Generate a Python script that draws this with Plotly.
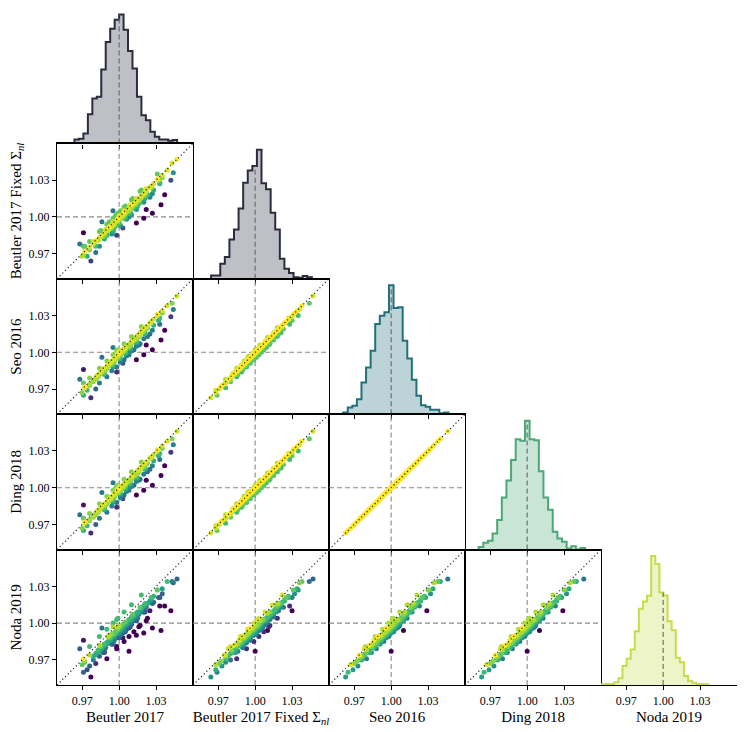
"""
Corner plot comparing BAO fit results (alpha) across five models
Histograms on the diagonal, pairwise scatter below it
"""

import numpy as np
import plotly.graph_objects as go
from plotly.subplots import make_subplots

# Model names (axis labels)
models = ["Beutler 2017", "Beutler 2017 Fixed Σ<sub><i>nl</i></sub>", "Seo 2016", "Ding 2018", "Noda 2019"]

# Per-realisation values (same realisation = same index)
beutler = [0.977, 0.970, 0.981, 0.972, 0.976, 0.971, 0.979, 0.968, 0.981, 0.983,
           0.982, 0.984, 0.985, 0.998, 0.986, 0.988, 0.971, 0.988, 0.990, 0.995,
           0.991, 0.991, 0.993, 1.003, 0.992, 0.993, 0.996, 0.994, 0.995, 0.996,
           1.014, 0.996, 0.997, 0.986, 0.998, 0.999, 1.001, 0.999, 1.020, 0.999,
           1.000, 1.002, 0.999, 1.001, 1.003, 1.008, 1.002, 1.003, 1.000, 1.004,
           1.027, 1.003, 1.005, 1.004, 1.006, 0.995, 1.007, 1.008, 1.022, 1.008,
           1.009, 1.010, 1.010, 1.015, 1.011, 1.010, 1.034, 1.012, 1.013, 1.014,
           1.014, 1.016, 1.015, 1.017, 1.025, 1.018, 1.018, 1.037, 1.020, 1.021,
           1.022, 1.028, 1.025, 1.026, 1.028, 1.042, 1.031, 1.035, 1.039, 1.047,
           0.971, 0.974, 0.972, 0.976, 0.984, 0.979, 0.981, 0.976, 0.990, 0.983,
           0.988, 0.988, 0.985, 0.987, 0.994, 0.989, 0.990, 0.984, 0.998, 0.991,
           0.995, 0.995, 0.992, 0.994, 1.001, 0.995, 0.996, 0.990, 1.004, 0.996,
           1.001, 1.000, 0.997, 0.999, 1.006, 1.000, 1.000, 0.995, 1.008, 1.001,
           1.005, 1.005, 1.001, 1.003, 1.010, 1.004, 1.005, 0.999, 1.012, 1.005,
           1.009, 1.009, 1.005, 1.008, 1.014, 1.009, 1.009, 1.004, 1.017, 1.010,
           1.014, 1.014, 1.011, 1.013, 1.020, 1.014, 1.015, 1.010, 1.023, 1.016,
           1.021, 1.021, 1.017, 1.020, 1.027, 1.022, 1.023, 1.018, 1.033, 1.026,
           1.032, 1.033, 1.031, 1.035, 1.044, 1.043, 0.999, 0.998, 1.016, 0.993]
beutler_fixed = [0.964, 0.968, 0.971, 0.972, 0.975, 0.976, 0.978, 0.978, 0.980, 0.981,
                 0.981, 0.983, 0.984, 0.985, 0.985, 0.986, 0.987, 0.987, 0.989, 0.988,
                 0.990, 0.990, 0.991, 0.991, 0.992, 0.992, 0.993, 0.993, 0.994, 0.994,
                 0.995, 0.995, 0.996, 0.996, 0.997, 0.997, 0.998, 0.998, 0.999, 0.998,
                 0.999, 1.000, 0.999, 1.000, 1.001, 1.000, 1.001, 1.002, 1.001, 1.002,
                 1.003, 1.002, 1.003, 1.004, 1.004, 1.005, 1.005, 1.006, 1.006, 1.007,
                 1.007, 1.008, 1.008, 1.009, 1.009, 1.010, 1.010, 1.011, 1.011, 1.012,
                 1.013, 1.013, 1.014, 1.015, 1.016, 1.016, 1.017, 1.018, 1.019, 1.020,
                 1.021, 1.022, 1.024, 1.025, 1.027, 1.030, 1.031, 1.034, 1.038, 1.047,
                 0.969, 0.968, 0.976, 0.973, 0.976, 0.980, 0.976, 0.980, 0.985, 0.981,
                 0.986, 0.982, 0.989, 0.984, 0.986, 0.990, 0.985, 0.988, 0.993, 0.989,
                 0.993, 0.989, 0.996, 0.991, 0.993, 0.996, 0.991, 0.994, 0.999, 0.994,
                 0.999, 0.994, 1.001, 0.996, 0.998, 1.001, 0.995, 0.999, 1.003, 0.999,
                 1.003, 0.999, 1.005, 1.000, 1.002, 1.005, 1.000, 1.003, 1.007, 1.003,
                 1.007, 1.003, 1.009, 1.005, 1.006, 1.010, 1.004, 1.008, 1.012, 1.008,
                 1.012, 1.008, 1.015, 1.010, 1.012, 1.015, 1.010, 1.014, 1.018, 1.014,
                 1.019, 1.015, 1.021, 1.017, 1.019, 1.023, 1.018, 1.022, 1.028, 1.024,
                 1.030, 1.027, 1.035, 1.032, 1.036, 1.044, 0.994, 1.002, 1.011, 0.991]
seo = [0.963, 0.967, 0.970, 0.972, 0.974, 0.975, 0.977, 0.978, 0.979, 0.980,
       0.981, 0.982, 0.983, 0.984, 0.985, 0.985, 0.986, 0.987, 0.988, 0.988,
       0.989, 0.990, 0.990, 0.991, 0.991, 0.992, 0.992, 0.993, 0.993, 0.994,
       0.994, 0.995, 0.995, 0.996, 0.996, 0.997, 0.997, 0.998, 0.998, 0.998,
       0.999, 0.999, 0.999, 1.000, 1.000, 1.000, 1.001, 1.001, 1.001, 1.002,
       1.002, 1.002, 1.003, 1.003, 1.004, 1.004, 1.005, 1.005, 1.006, 1.006,
       1.007, 1.007, 1.008, 1.008, 1.009, 1.009, 1.010, 1.010, 1.011, 1.012,
       1.012, 1.013, 1.014, 1.015, 1.015, 1.016, 1.017, 1.018, 1.019, 1.020,
       1.021, 1.022, 1.024, 1.025, 1.027, 1.029, 1.031, 1.034, 1.038, 1.046,
       0.965, 0.969, 0.971, 0.973, 0.975, 0.976, 0.978, 0.979, 0.980, 0.981,
       0.982, 0.983, 0.984, 0.984, 0.985, 0.986, 0.987, 0.987, 0.988, 0.989,
       0.989, 0.990, 0.991, 0.991, 0.992, 0.992, 0.993, 0.993, 0.994, 0.994,
       0.995, 0.995, 0.996, 0.996, 0.997, 0.997, 0.997, 0.998, 0.998, 0.999,
       0.999, 1.000, 1.000, 1.000, 1.001, 1.001, 1.002, 1.002, 1.002, 1.003,
       1.003, 1.004, 1.004, 1.005, 1.005, 1.006, 1.006, 1.007, 1.007, 1.008,
       1.008, 1.009, 1.010, 1.010, 1.011, 1.011, 1.012, 1.013, 1.013, 1.014,
       1.015, 1.016, 1.016, 1.017, 1.018, 1.019, 1.020, 1.021, 1.023, 1.024,
       1.026, 1.028, 1.030, 1.032, 1.035, 1.040, 0.996, 1.001, 1.006, 0.991]
ding = [0.963, 0.967, 0.970, 0.972, 0.974, 0.975, 0.977, 0.978, 0.979, 0.980,
        0.981, 0.982, 0.983, 0.984, 0.985, 0.985, 0.986, 0.987, 0.988, 0.988,
        0.989, 0.990, 0.990, 0.991, 0.991, 0.992, 0.992, 0.993, 0.993, 0.994,
        0.994, 0.995, 0.995, 0.996, 0.996, 0.997, 0.997, 0.998, 0.998, 0.998,
        0.999, 0.999, 0.999, 1.000, 1.000, 1.000, 1.001, 1.001, 1.001, 1.002,
        1.002, 1.002, 1.003, 1.003, 1.004, 1.004, 1.005, 1.005, 1.006, 1.006,
        1.007, 1.007, 1.008, 1.008, 1.009, 1.009, 1.010, 1.010, 1.011, 1.012,
        1.012, 1.013, 1.014, 1.015, 1.015, 1.016, 1.017, 1.018, 1.019, 1.020,
        1.021, 1.022, 1.024, 1.025, 1.027, 1.029, 1.031, 1.034, 1.038, 1.046,
        0.965, 0.969, 0.971, 0.973, 0.975, 0.976, 0.978, 0.979, 0.980, 0.981,
        0.982, 0.983, 0.984, 0.984, 0.985, 0.986, 0.987, 0.987, 0.988, 0.989,
        0.989, 0.990, 0.991, 0.991, 0.992, 0.992, 0.993, 0.993, 0.994, 0.994,
        0.995, 0.995, 0.996, 0.996, 0.997, 0.997, 0.997, 0.998, 0.998, 0.999,
        0.999, 1.000, 1.000, 1.000, 1.001, 1.001, 1.002, 1.002, 1.002, 1.003,
        1.003, 1.004, 1.004, 1.005, 1.005, 1.006, 1.006, 1.007, 1.007, 1.008,
        1.008, 1.009, 1.010, 1.010, 1.011, 1.011, 1.012, 1.013, 1.013, 1.014,
        1.015, 1.016, 1.016, 1.017, 1.018, 1.019, 1.020, 1.021, 1.023, 1.024,
        1.026, 1.028, 1.030, 1.032, 1.035, 1.040, 0.996, 1.001, 1.006, 0.991]
noda = [0.956, 0.966, 0.967, 0.969, 0.974, 0.971, 0.973, 0.979, 0.975, 0.978,
        0.976, 0.982, 0.978, 0.981, 0.980, 0.983, 0.986, 0.982, 0.984, 0.985,
        0.989, 0.985, 0.987, 0.988, 0.990, 0.988, 0.986, 0.991, 0.989, 0.992,
        0.990, 0.991, 0.993, 0.996, 0.992, 0.994, 0.991, 0.995, 0.992, 0.996,
        0.995, 0.993, 0.997, 0.995, 0.996, 0.977, 0.997, 0.994, 0.998, 0.997,
        0.996, 0.999, 0.998, 0.995, 1.000, 0.997, 0.999, 0.996, 1.002, 1.003,
        1.002, 0.999, 1.003, 1.004, 1.003, 1.005, 0.994, 1.006, 1.005, 1.006,
        1.008, 1.007, 1.009, 1.009, 1.010, 1.011, 1.012, 1.014, 1.014, 1.016,
        1.016, 1.017, 1.018, 1.021, 1.022, 1.010, 1.027, 1.028, 1.034, 1.036,
        0.960, 0.962, 0.968, 0.965, 0.973, 0.970, 0.974, 0.981, 0.971, 0.976,
        0.977, 0.976, 0.981, 0.976, 0.983, 0.980, 0.983, 0.989, 0.979, 0.984,
        0.984, 0.983, 0.988, 0.983, 0.990, 0.986, 0.989, 0.995, 0.985, 0.989,
        0.990, 0.988, 0.993, 0.988, 0.995, 0.991, 0.993, 1.000, 0.989, 0.994,
        0.994, 0.993, 0.997, 0.992, 0.999, 0.995, 0.998, 1.004, 0.993, 0.998,
        0.998, 0.997, 1.001, 0.997, 1.003, 1.000, 1.002, 1.009, 0.998, 1.003,
        1.003, 1.002, 1.007, 1.002, 1.009, 1.005, 1.008, 1.015, 1.004, 1.009,
        1.010, 1.009, 1.013, 1.009, 1.016, 1.013, 1.016, 1.023, 1.014, 1.019,
        1.021, 1.021, 1.027, 1.024, 1.033, 1.034, 0.992, 1.003, 0.997, 0.986]

# Histogram counts (relative heights)
hist_beutler = [12, 14, 30, 88, 135, 140, 222, 305, 345, 372, 388, 342,
                278, 225, 140, 85, 70, 35, 20, 12, 12, 8, 10]
hist_beutler_fixed = [10, 10, 45, 65, 117, 147, 210, 287, 323, 337, 385,
                      285, 267, 197, 147, 60, 30, 17, 5, 3, 8, 5]
hist_seo = [5, 20, 25, 45, 95, 140, 190, 270, 295, 305, 386, 318,
            320, 220, 167, 103, 55, 27, 22, 13, 13, 3, 5]
hist_ding = [8, 20, 26, 48, 88, 155, 205, 266, 328, 323, 383, 328,
             325, 233, 155, 118, 53, 33, 23, 3, 10, 0, 5]
hist_noda = [2, 3, 3, 8, 20, 57, 79, 107, 162, 230, 252, 269, 389,
             365, 279, 270, 192, 165, 82, 69, 27, 12, 7, 3, 3, 2]
# Histogram bin ranges (lowest edge, highest edge)
hist_lo = [0.9637, 0.9642, 0.9610, 0.9606, 0.9503]
hist_hi = [1.0471, 1.0461, 1.0466, 1.0471, 1.0369]

tick_vals = [0.97, 1.00, 1.03]
tick_text = ["0.97", "1.00", "1.03"]
ref_value = 1.0
axis_range = [0.9495, 1.0600]

edge_colors = ["#2b2d3f", "#2b2d3f", "#22717a", "#4aa874", "#c5dd48"]
fill_colors = ["rgba(43,45,63,0.3)", "rgba(43,45,63,0.3)", "rgba(34,113,122,0.3)",
               "rgba(74,168,116,0.3)", "rgba(197,221,72,0.3)"]

samples = [beutler, beutler_fixed, seo, ding, noda]
hists = [hist_beutler, hist_beutler_fixed, hist_seo, hist_ding, hist_noda]
n = len(models)

specs = [[{} if c <= r else None for c in range(n)] for r in range(n)]
fig = make_subplots(rows=n, cols=n, specs=specs, horizontal_spacing=0, vertical_spacing=0)

FONT = "Liberation Serif"
TITLE_FONT = dict(size=15, family=FONT, color="black")
axis_common = dict(showgrid=False, zeroline=False, showline=True, linecolor="black",
                   linewidth=1.2, tickcolor="black", tickwidth=1, ticklen=4,
                   automargin=False,
                   tickfont=dict(size=12, family=FONT, color="black"))
dash_grey = dict(color="#888888", width=1.1, dash="5px,3px")

for r in range(n):
    for c in range(r + 1):
        row, col = r + 1, c + 1
        if r == c:
            # Diagonal: step histogram
            counts = hists[r]
            edges = np.linspace(hist_lo[r], hist_hi[r], len(counts) + 1)
            xs = [edges[0]] + list(edges[:-1]) + [edges[-1]]
            ys = [0] + list(counts) + [0]
            fig.add_trace(go.Scatter(
                x=xs, y=ys, mode="lines", line_shape="hv",
                line=dict(color=edge_colors[r], width=2),
                fill="tozeroy", fillcolor=fill_colors[r],
                hoverinfo="skip", showlegend=False
            ), row=row, col=col)
            # dashed reference line up to the bar height
            k = int(np.searchsorted(edges, ref_value) - 1)
            fig.add_trace(go.Scatter(
                x=[ref_value, ref_value], y=[0, counts[k]], mode="lines",
                line=dict(color="#666666", width=1.1, dash="5px,3px"),
                hoverinfo="skip", showlegend=False
            ), row=row, col=col)
            fig.update_yaxes(range=[0, max(counts) * 1.05], visible=False, row=row, col=col)
            fig.update_xaxes(range=axis_range, tickvals=tick_vals, ticktext=tick_text,
                             ticks="outside", mirror=False, showticklabels=(r == n - 1),
                             title_text=models[c] if r == n - 1 else None,
                             title_font=TITLE_FONT, title_standoff=4,
                             **axis_common, row=row, col=col)
        else:
            # Lower triangle: pairwise scatter coloured by distance from y = x
            x = np.array(samples[c])
            y = np.array(samples[r])
            diff = np.abs(y - x)
            order = np.argsort(-diff, kind="stable")
            fig.add_trace(go.Scatter(
                x=x[order], y=y[order], mode="markers",
                marker=dict(size=5, color=diff[order], colorscale="Viridis",
                            reversescale=True, cmin=0, cmax=0.016, line=dict(width=0)),
                hovertemplate="%{x:.3f}, %{y:.3f}<extra></extra>", showlegend=False
            ), row=row, col=col)
            # reference lines
            fig.add_shape(type="line", x0=ref_value, x1=ref_value, y0=axis_range[0], y1=axis_range[1],
                          line=dash_grey, layer="below", row=row, col=col)
            fig.add_shape(type="line", x0=axis_range[0], x1=axis_range[1], y0=ref_value, y1=ref_value,
                          line=dash_grey, layer="below", row=row, col=col)
            fig.add_shape(type="line", x0=axis_range[0], x1=axis_range[1],
                          y0=axis_range[0], y1=axis_range[1],
                          line=dict(color="#222222", width=1.2, dash="1.2px,2.6px"),
                          layer="above", row=row, col=col)
            fig.update_xaxes(range=axis_range, tickvals=tick_vals, ticktext=tick_text,
                             ticks="outside", mirror=True, showticklabels=(r == n - 1),
                             title_text=models[c] if r == n - 1 else None,
                             title_font=TITLE_FONT, title_standoff=4,
                             **axis_common, row=row, col=col)
            fig.update_yaxes(range=axis_range, tickvals=tick_vals, ticktext=tick_text,
                             ticks="outside" if c == 0 else "", mirror=True,
                             showticklabels=(c == 0),
                             title_text=models[r] if c == 0 else None,
                             title_font=TITLE_FONT, title_standoff=6,
                             **axis_common, row=row, col=col)

# The page body keeps its default 8px margin, so the figure is 8px smaller
# than the window and the margins are shifted to compensate
fig.update_layout(
    width=739, height=724,
    margin=dict(l=49, r=10, t=0, b=47),
    plot_bgcolor="white", paper_bgcolor="white",
    font=dict(family=FONT, color="black"),
    showlegend=False
)

fig.write_html("out.html")
